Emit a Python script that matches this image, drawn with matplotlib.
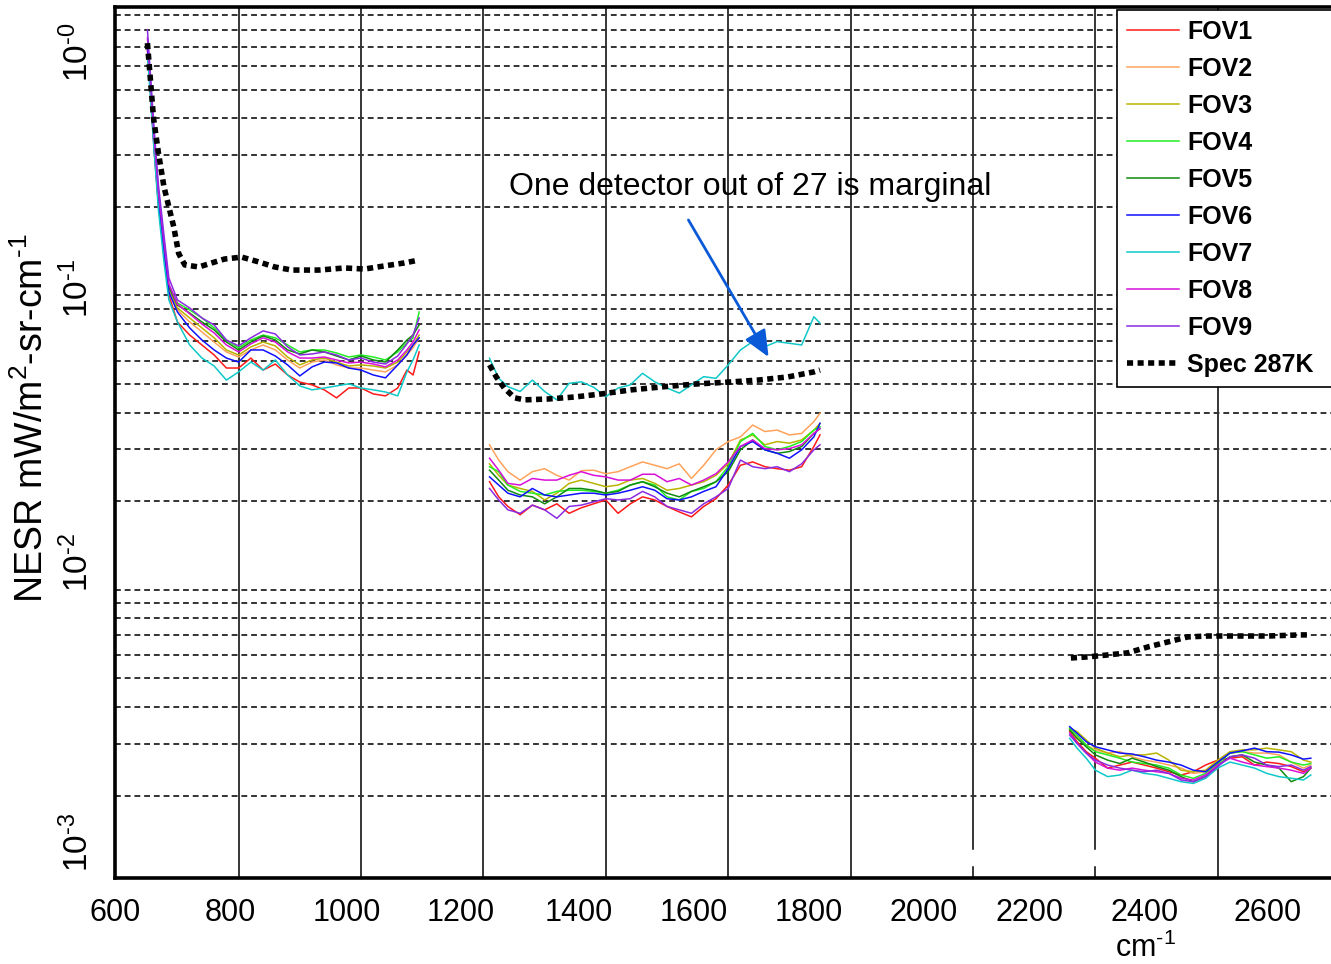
import matplotlib
matplotlib.use("Agg")
import matplotlib.pyplot as plt
from matplotlib.ticker import LogLocator, NullFormatter, FixedLocator

# wavenumber grids (cm-1) for the three bands
lw_wn = [651, 656, 662, 669, 678, 686, 700, 720, 740, 760, 780, 800, 820, 840, 860, 880,
         900, 920, 940, 960, 980, 1000, 1020, 1040, 1060, 1075, 1085, 1095]
mw_wn = [1210, 1225, 1240, 1260, 1280, 1300, 1320, 1340, 1360, 1380, 1400, 1420, 1440, 1460,
         1480, 1500, 1520, 1540, 1560, 1580, 1600, 1620, 1640, 1660, 1680, 1700, 1720, 1740, 1750]
sw_wn = [2158, 2170, 2185, 2200, 2220, 2240, 2260, 2280, 2300, 2320, 2340, 2360, 2380, 2400,
         2420, 2440, 2460, 2480, 2500, 2520, 2540, 2552]

fov_names = ["FOV1", "FOV2", "FOV3", "FOV4", "FOV5", "FOV6", "FOV7", "FOV8", "FOV9"]
fov_colors = ["#ff1a1a", "#ffa35c", "#b8b400", "#22ee22", "#108a10", "#1010ff", "#10c8c8", "#d810d8", "#8a2be2"]

# NESR per FOV, long wave band
nesr_lw = {
    "FOV1": [0.682, 0.491, 0.312, 0.203, 0.1373, 0.1004, 0.0813, 0.0734, 0.0679, 0.0628, 0.0567, 0.0567, 0.0613, 0.0558,
             0.0585, 0.0537, 0.0508, 0.0497, 0.0478, 0.0449, 0.0485, 0.0485, 0.0463, 0.0456, 0.0485, 0.0558, 0.0537, 0.0643],
    "FOV2": [0.709, 0.507, 0.3245, 0.211, 0.1427, 0.1044, 0.0893, 0.0813, 0.0752, 0.0695, 0.0643, 0.0618, 0.0653, 0.0679,
             0.0653, 0.0604, 0.0567, 0.0594, 0.0604, 0.0581, 0.0567, 0.0567, 0.0558, 0.0550, 0.0581, 0.0628, 0.0664, 0.0718],
    "FOV3": [0.709, 0.507, 0.3245, 0.2144, 0.145, 0.1061, 0.0907, 0.0839, 0.0776, 0.0718, 0.0653, 0.0628, 0.0669, 0.0695,
             0.0674, 0.0618, 0.0581, 0.0604, 0.0613, 0.0594, 0.0576, 0.0581, 0.0576, 0.0567, 0.0594, 0.0643, 0.0679, 0.0734],
    "FOV4": [0.709, 0.519, 0.3375, 0.2194, 0.1484, 0.1086, 0.0943, 0.0893, 0.0839, 0.0776, 0.0706, 0.0664, 0.0706, 0.0734,
             0.0718, 0.0679, 0.0643, 0.0653, 0.0653, 0.0638, 0.0618, 0.0628, 0.0618, 0.0604, 0.0643, 0.0690, 0.0718, 0.0879],
    "FOV5": [0.709, 0.519, 0.332, 0.216, 0.146, 0.1069, 0.0928, 0.0872, 0.0813, 0.0764, 0.0695, 0.0653, 0.0695, 0.0729,
             0.0706, 0.0653, 0.0633, 0.0653, 0.0643, 0.0623, 0.0604, 0.0623, 0.0604, 0.0594, 0.0653, 0.0706, 0.0734, 0.0794],
    "FOV6": [0.693, 0.499, 0.317, 0.206, 0.1405, 0.1028, 0.0879, 0.0776, 0.0706, 0.0653, 0.0613, 0.0594, 0.0653, 0.0653,
             0.0623, 0.0581, 0.0533, 0.0572, 0.0594, 0.0590, 0.0567, 0.0558, 0.0537, 0.0525, 0.0581, 0.0628, 0.0679, 0.0718],
    "FOV7": [0.656, 0.469, 0.307, 0.195, 0.130, 0.0966, 0.0813, 0.0679, 0.0613, 0.0576, 0.0516, 0.0550, 0.0594, 0.0558,
             0.0604, 0.0537, 0.0493, 0.0478, 0.0485, 0.0493, 0.0501, 0.0485, 0.0478, 0.0470, 0.0456, 0.0550, 0.0604, 0.0679],
    "FOV8": [0.749, 0.531, 0.343, 0.2246, 0.152, 0.1094, 0.0935, 0.0866, 0.0800, 0.0746, 0.0679, 0.0643, 0.0685, 0.0718,
             0.0695, 0.0643, 0.0613, 0.0613, 0.0618, 0.0604, 0.0590, 0.0594, 0.0585, 0.0572, 0.0604, 0.0653, 0.0695, 0.0764],
    "FOV9": [0.798, 0.561, 0.365, 0.237, 0.1605, 0.1147, 0.0966, 0.0907, 0.0839, 0.0794, 0.0706, 0.0674, 0.0718, 0.0758,
             0.0740, 0.0669, 0.0628, 0.0633, 0.0643, 0.0628, 0.0604, 0.0613, 0.0594, 0.0585, 0.0623, 0.0685, 0.0734, 0.0839],
}

# mid wave band
nesr_mw = {
    "FOV1": [0.0233, 0.0207, 0.0192, 0.0180, 0.0194, 0.0187, 0.0196, 0.0182, 0.0190, 0.0196, 0.0202, 0.0182, 0.0196, 0.0207,
             0.0202, 0.0192, 0.0184, 0.0177, 0.0192, 0.0204, 0.0227, 0.0265, 0.0272, 0.0262, 0.0258, 0.0255, 0.0262, 0.0307, 0.0336],
    "FOV2": [0.0311, 0.0276, 0.0252, 0.0236, 0.0252, 0.0258, 0.0245, 0.0236, 0.0254, 0.0255, 0.0248, 0.0252, 0.0262, 0.0272,
             0.0265, 0.0258, 0.0268, 0.0239, 0.0265, 0.0299, 0.0319, 0.0331, 0.0363, 0.0345, 0.0349, 0.0336, 0.0340, 0.0373, 0.0398],
    "FOV3": [0.0268, 0.0245, 0.0227, 0.0221, 0.0216, 0.0202, 0.0213, 0.0230, 0.0236, 0.0230, 0.0224, 0.0227, 0.0236, 0.0239,
             0.0230, 0.0218, 0.0221, 0.0227, 0.0233, 0.0245, 0.0268, 0.0323, 0.0336, 0.0311, 0.0319, 0.0315, 0.0323, 0.0349, 0.0368],
    "FOV4": [0.0262, 0.0252, 0.0227, 0.0216, 0.0213, 0.0210, 0.0216, 0.0218, 0.0218, 0.0216, 0.0213, 0.0218, 0.0227, 0.0233,
             0.0227, 0.0207, 0.0202, 0.0216, 0.0221, 0.0233, 0.0262, 0.0319, 0.0340, 0.0307, 0.0299, 0.0307, 0.0319, 0.0349, 0.0358],
    "FOV5": [0.0255, 0.0236, 0.0218, 0.0210, 0.0207, 0.0196, 0.0207, 0.0221, 0.0221, 0.0218, 0.0213, 0.0216, 0.0227, 0.0233,
             0.0224, 0.0213, 0.0207, 0.0216, 0.0224, 0.0233, 0.0252, 0.0299, 0.0323, 0.0299, 0.0291, 0.0295, 0.0307, 0.0340, 0.0353],
    "FOV6": [0.0242, 0.0227, 0.0213, 0.0207, 0.0221, 0.0210, 0.0207, 0.0210, 0.0213, 0.0213, 0.0210, 0.0213, 0.0218, 0.0224,
             0.0218, 0.0204, 0.0202, 0.0207, 0.0216, 0.0224, 0.0258, 0.0307, 0.0319, 0.0299, 0.0291, 0.0280, 0.0299, 0.0331, 0.0368],
    "FOV7": [0.0612, 0.0523, 0.0490, 0.0472, 0.0516, 0.0472, 0.0442, 0.0503, 0.0509, 0.0488, 0.0453, 0.0485, 0.0497, 0.0544,
             0.0509, 0.0485, 0.0466, 0.0497, 0.0530, 0.0523, 0.0581, 0.0653, 0.0697, 0.0670, 0.0697, 0.0688, 0.0679, 0.0847, 0.0805],
    "FOV8": [0.0280, 0.0255, 0.0230, 0.0227, 0.0239, 0.0236, 0.0236, 0.0245, 0.0252, 0.0245, 0.0242, 0.0236, 0.0236, 0.0247,
             0.0247, 0.0233, 0.0239, 0.0227, 0.0236, 0.0248, 0.0272, 0.0307, 0.0323, 0.0302, 0.0299, 0.0302, 0.0311, 0.0340, 0.0353],
    "FOV9": [0.0221, 0.0202, 0.0187, 0.0182, 0.0194, 0.0187, 0.0175, 0.0192, 0.0194, 0.0199, 0.0204, 0.0202, 0.0204, 0.0216,
             0.0207, 0.0192, 0.0187, 0.0182, 0.0196, 0.0207, 0.0221, 0.0276, 0.0262, 0.0258, 0.0262, 0.0252, 0.0268, 0.0299, 0.0311],
}

# short wave band
nesr_sw = {
    "FOV1": [0.00330, 0.00305, 0.00282, 0.00268, 0.00248, 0.00254, 0.00260, 0.00254, 0.00248, 0.00241, 0.00235,
             0.00241, 0.00254, 0.00264, 0.00268, 0.00271, 0.00254, 0.00260, 0.00257, 0.00251, 0.00241, 0.00248],
    "FOV2": [0.00334, 0.00317, 0.00297, 0.00286, 0.00279, 0.00282, 0.00271, 0.00264, 0.00260, 0.00254, 0.00248,
             0.00238, 0.00241, 0.00260, 0.00279, 0.00282, 0.00279, 0.00279, 0.00275, 0.00260, 0.00248, 0.00254],
    "FOV3": [0.00339, 0.00330, 0.00309, 0.00290, 0.00279, 0.00271, 0.00275, 0.00275, 0.00279, 0.00264, 0.00244,
             0.00241, 0.00244, 0.00264, 0.00282, 0.00286, 0.00286, 0.00290, 0.00286, 0.00282, 0.00264, 0.00260],
    "FOV4": [0.00339, 0.00321, 0.00297, 0.00282, 0.00275, 0.00268, 0.00260, 0.00257, 0.00254, 0.00248, 0.00235,
             0.00229, 0.00238, 0.00257, 0.00279, 0.00282, 0.00275, 0.00268, 0.00271, 0.00260, 0.00254, 0.00257],
    "FOV5": [0.00334, 0.00313, 0.00293, 0.00275, 0.00264, 0.00257, 0.00268, 0.00260, 0.00251, 0.00244, 0.00232,
             0.00223, 0.00232, 0.00254, 0.00271, 0.00275, 0.00260, 0.00254, 0.00248, 0.00223, 0.00232, 0.00248],
    "FOV6": [0.00343, 0.00326, 0.00305, 0.00293, 0.00286, 0.00279, 0.00277, 0.00271, 0.00264, 0.00260, 0.00254,
             0.00244, 0.00241, 0.00260, 0.00279, 0.00284, 0.00290, 0.00282, 0.00281, 0.00275, 0.00266, 0.00268],
    "FOV7": [0.00313, 0.00290, 0.00268, 0.00244, 0.00232, 0.00235, 0.00244, 0.00238, 0.00235, 0.00229, 0.00223,
             0.00220, 0.00229, 0.00248, 0.00260, 0.00254, 0.00248, 0.00238, 0.00232, 0.00229, 0.00226, 0.00235],
    "FOV8": [0.00326, 0.00301, 0.00279, 0.00260, 0.00248, 0.00244, 0.00248, 0.00244, 0.00241, 0.00238, 0.00229,
             0.00226, 0.00235, 0.00254, 0.00268, 0.00260, 0.00254, 0.00251, 0.00248, 0.00244, 0.00238, 0.00248],
    "FOV9": [0.00321, 0.00301, 0.00279, 0.00264, 0.00254, 0.00248, 0.00244, 0.00241, 0.00244, 0.00238, 0.00226,
             0.00223, 0.00232, 0.00251, 0.00271, 0.00275, 0.00268, 0.00254, 0.00251, 0.00254, 0.00244, 0.00251],
}

# spec at 287K
spec_lw_wn = [651, 655, 661, 669, 678, 686, 694, 702, 712, 735, 756, 777, 805, 833, 859, 887, 931, 973, 1006, 1038, 1071, 1095]
spec_lw = [0.72, 0.57, 0.40, 0.305, 0.234, 0.20, 0.171, 0.139, 0.127, 0.125, 0.129, 0.133, 0.135, 0.130, 0.125,
           0.122, 0.122, 0.124, 0.123, 0.126, 0.129, 0.132]
spec_mw_wn = [1210, 1221, 1234, 1251, 1267, 1306, 1349, 1393, 1442, 1491, 1545, 1601, 1649, 1698, 1740, 1750]
spec_mw = [0.0581, 0.0529, 0.0485, 0.0449, 0.0442, 0.0445, 0.0452, 0.0463, 0.0478, 0.0489, 0.0500, 0.0508,
           0.0516, 0.0529, 0.0550, 0.0558]
spec_sw_wn = [2160, 2188, 2220, 2253, 2286, 2318, 2351, 2384, 2426, 2482, 2535, 2552]
spec_sw = [0.00587, 0.00592, 0.00601, 0.00611, 0.00640, 0.00665, 0.00692, 0.00697, 0.00697, 0.00697, 0.00703, 0.00703]

# axis labels (placed where the original figure shows them)
xtick_pos = [598, 786, 977, 1163, 1356, 1544, 1731, 1919, 2092, 2280, 2482]
xtick_labels = ["600", "800", "1000", "1200", "1400", "1600", "1800", "2000", "2200", "2400", "2600"]
ytick_pos = [0.67, 0.106, 0.01234, 0.00139]
ytick_labels = [r"$10^{\text{-}0}$", r"$10^{\text{-}1}$", r"$10^{\text{-}2}$", r"$10^{\text{-}3}$"]
vgrid_full = [800, 1000, 1200, 1400, 1600, 1800, 2400]
vgrid_cut = [2000, 2200]

plt.rcParams["font.family"] = ["Liberation Sans", "DejaVu Sans"]
plt.rcParams["mathtext.fontset"] = "custom"
plt.rcParams["mathtext.rm"] = "Liberation Sans"
plt.rcParams["mathtext.it"] = "Liberation Sans:italic"
plt.rcParams["mathtext.bf"] = "Liberation Sans:bold"

fig = plt.figure(figsize=(13.31, 9.64), dpi=100)
ax = fig.add_axes([115 / 1331, 1 - 877.5 / 964, 1 - 115 / 1331, (877.5 - 7) / 964])

handles = []
for name, col in zip(fov_names, fov_colors):
    h, = ax.plot(lw_wn, nesr_lw[name], color=col, lw=1.1, label=name, zorder=3)
    ax.plot(mw_wn, nesr_mw[name], color=col, lw=1.1, zorder=3)
    ax.plot(sw_wn, nesr_sw[name], color=col, lw=1.1, zorder=3)
    handles.append(h)

spec_style = dict(color="k", lw=4, ls=(0, (1.1, 0.8)), dash_capstyle="butt", zorder=4)
h, = ax.plot(spec_lw_wn, spec_lw, label="Spec 287K", **spec_style)
ax.plot(spec_mw_wn, spec_mw, **spec_style)
ax.plot(spec_sw_wn, spec_sw, **spec_style)
handles.append(h)

ax.set_yscale("log")
ax.set_xlim(600, 2585)
ax.set_ylim(0.001054, 0.955)

# dashed horizontal grid at every log subdivision
ax.yaxis.set_minor_locator(LogLocator(base=10, subs=range(1, 10), numticks=30))
ax.yaxis.set_minor_formatter(NullFormatter())
ax.grid(which="minor", axis="y", color="#333333", ls=(0, (3, 2)), lw=1.4, zorder=1)
ax.yaxis.set_major_locator(FixedLocator(ytick_pos))
ax.set_yticklabels(ytick_labels, rotation=90, va="center", fontsize=24)
ax.tick_params(axis="y", which="both", length=0, pad=14)

ax.set_xticks(xtick_pos)
ax.set_xticklabels(xtick_labels, fontsize=22)
ax.tick_params(axis="x", length=0, pad=15)

for v in vgrid_full:
    ax.axvline(v, color="k", lw=1.1, zorder=1.5)
for v in vgrid_cut:
    ax.axvline(v, ymin=0.033, ymax=1, color="k", lw=1.1, zorder=1.5)
    ax.axvline(v, ymin=0, ymax=0.012, color="k", lw=1.1, zorder=1.5)

for s in ["left", "bottom", "top"]:
    ax.spines[s].set_linewidth(2.6)
ax.spines["right"].set_visible(False)

leg = ax.legend(handles=handles, loc="upper left", bbox_to_anchor=(0.824, 0.997, 0.19, 0), mode="expand",
                prop={"weight": "bold", "size": 18}, fancybox=False, edgecolor="k",
                framealpha=1, handlelength=2.1, handletextpad=0.3, labelspacing=0.52,
                borderpad=0.4, borderaxespad=0)
leg.get_frame().set_linewidth(1.2)
leg.set_zorder(10)

ax.text(1241, 0.234, "One detector out of 27 is marginal", fontsize=23, va="center", ha="left", zorder=5)
ax.annotate("", xy=(1666, 0.0618), xytext=(1535, 0.1805),
            arrowprops=dict(arrowstyle="-|>,head_length=0.8,head_width=0.35", color="#0a5ad8",
                            lw=2, mutation_scale=20, shrinkA=0, shrinkB=0), zorder=6)

fig.text(32 / 1331, 1 - 418 / 964, r"NESR mW/m$^{2}$-sr-cm$^{\text{-}1}$", rotation=90, fontsize=27,
         ha="center", va="center")
fig.text(1145 / 1331, 1 - 948 / 964, r"cm$^{\text{-}1}$", fontsize=22, ha="center", va="center")

fig.savefig("out.png", dpi=100)
